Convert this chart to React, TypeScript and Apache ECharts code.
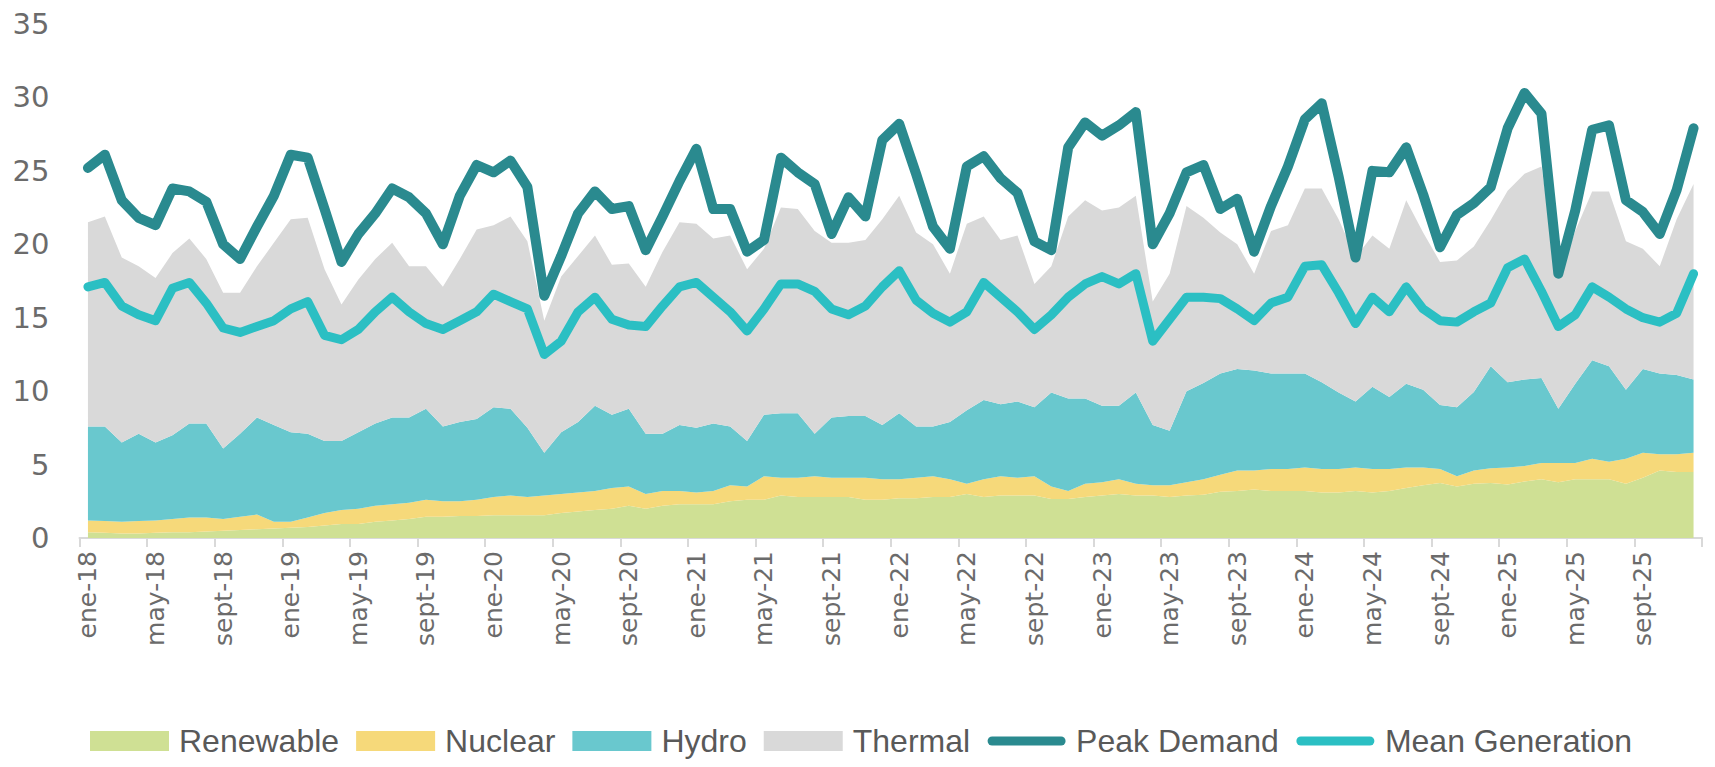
import React, { useEffect, useRef } from "react";
import * as echarts from "echarts";

const monthNames = ["ene", "feb", "mar", "abr", "may", "jun", "jul", "ago", "sept", "oct", "nov", "dic"];
const years = ["18", "19", "20", "21", "22", "23", "24", "25"];
const categories = years.flatMap((y) => monthNames.map((m) => `${m}-${y}`));

const renewable = [
  0.4, 0.35, 0.3, 0.3, 0.35, 0.4, 0.4, 0.45, 0.5, 0.55, 0.6, 0.65,
  0.7, 0.75, 0.85, 0.95, 0.95, 1.1, 1.2, 1.3, 1.45, 1.45, 1.5, 1.5,
  1.55, 1.55, 1.55, 1.55, 1.7, 1.8, 1.9, 2.0, 2.2, 2.0, 2.2, 2.3,
  2.3, 2.3, 2.5, 2.6, 2.6, 2.9, 2.8, 2.8, 2.8, 2.8, 2.6, 2.6,
  2.7, 2.7, 2.8, 2.8, 3.0, 2.8, 2.9, 2.9, 2.9, 2.65, 2.65, 2.8,
  2.9, 3.0, 2.9, 2.9, 2.8, 2.9, 2.95, 3.15, 3.2, 3.3, 3.2, 3.2,
  3.2, 3.1, 3.1, 3.2, 3.1, 3.2, 3.4, 3.6, 3.75, 3.5, 3.7, 3.75,
  3.65, 3.85, 4.0, 3.8, 4.0, 4.0, 4.0, 3.7, 4.1, 4.6, 4.5, 4.5,
];

const nuclear = [
  0.8, 0.8, 0.8, 0.85, 0.85, 0.9, 1.0, 0.95, 0.8, 0.9, 1.0, 0.45,
  0.4, 0.65, 0.85, 0.95, 1.05, 1.1, 1.1, 1.1, 1.15, 1.05, 1.0, 1.1,
  1.25, 1.35, 1.25, 1.35, 1.3, 1.3, 1.3, 1.4, 1.3, 1.0, 1.0, 0.9,
  0.8, 0.9, 1.1, 0.9, 1.6, 1.2, 1.3, 1.4, 1.3, 1.3, 1.5, 1.4,
  1.3, 1.4, 1.4, 1.2, 0.7, 1.2, 1.3, 1.2, 1.3, 0.85, 0.55, 0.9,
  0.9, 1.0, 0.8, 0.7, 0.8, 0.9, 1.05, 1.15, 1.4, 1.3, 1.5, 1.5,
  1.6, 1.6, 1.6, 1.6, 1.6, 1.5, 1.4, 1.2, 0.95, 0.7, 0.9, 1.0,
  1.15, 1.05, 1.1, 1.3, 1.1, 1.4, 1.2, 1.7, 1.7, 1.1, 1.2, 1.3,
];

const hydro = [
  6.4, 6.45, 5.4, 5.95, 5.3, 5.7, 6.4, 6.4, 4.8, 5.65, 6.6, 6.6,
  6.1, 5.7, 4.9, 4.7, 5.2, 5.6, 5.9, 5.8, 6.2, 5.1, 5.4, 5.5,
  6.1, 5.9, 4.7, 2.9, 4.2, 4.8, 5.8, 5.0, 5.3, 4.1, 3.9, 4.5,
  4.4, 4.6, 4.0, 3.1, 4.2, 4.4, 4.4, 2.9, 4.1, 4.2, 4.2, 3.7,
  4.5, 3.5, 3.4, 3.9, 5.0, 5.4, 4.9, 5.2, 4.7, 6.4, 6.3, 5.8,
  5.2, 5.0, 6.2, 4.1, 3.7, 6.2, 6.55, 6.9, 6.9, 6.8, 6.5, 6.5,
  6.4, 5.9, 5.2, 4.5, 5.6, 4.9, 5.7, 5.3, 4.35, 4.7, 5.35, 6.95,
  5.8, 5.9, 5.8, 3.7, 5.4, 6.7, 6.5, 4.7, 5.7, 5.5, 5.4, 5.0,
];

const thermal = [
  13.9, 14.3, 12.6, 11.4, 11.2, 12.4, 12.6, 11.2, 10.6, 9.6, 10.3, 12.4,
  14.5, 14.7, 11.7, 9.3, 10.4, 11.2, 11.9, 10.3, 9.7, 9.5, 11.1, 12.9,
  12.4, 13.1, 12.7, 9.0, 10.6, 11.3, 11.6, 10.2, 9.9, 10.0, 12.4, 13.8,
  13.9, 12.6, 13.0, 11.7, 11.3, 14.0, 13.9, 13.8, 11.9, 11.8, 12.0, 14.0,
  14.8, 13.2, 12.4, 10.1, 12.7, 12.5, 11.2, 11.3, 8.4, 8.6, 12.4, 13.5,
  13.3, 13.5, 13.4, 8.4, 10.7, 12.6, 11.25, 9.6, 8.5, 6.6, 9.7, 10.1,
  12.6, 13.2, 11.8, 9.8, 10.3, 10.1, 12.5, 10.7, 9.75, 10.0, 9.9, 9.95,
  13.05, 14.0, 14.4, 8.8, 10.4, 11.5, 11.9, 10.1, 8.2, 7.3, 10.6, 13.3,
];

const peakDemand = [
  25.2, 26.1, 23.0, 21.8, 21.3, 23.8, 23.6, 22.9, 20.0, 19.0, 21.2, 23.3,
  26.1, 25.9, 22.4, 18.8, 20.7, 22.1, 23.8, 23.2, 22.1, 20.0, 23.3, 25.4,
  24.9, 25.7, 23.9, 16.5, 19.2, 22.1, 23.6, 22.4, 22.6, 19.6, 21.9, 24.3,
  26.5, 22.4, 22.4, 19.5, 20.3, 25.9, 24.9, 24.1, 20.7, 23.2, 21.9, 27.1,
  28.2, 24.8, 21.2, 19.7, 25.3, 26.0, 24.5, 23.5, 20.2, 19.6, 26.6, 28.3,
  27.4, 28.1, 29.0, 20.0, 22.1, 24.9, 25.4, 22.4, 23.1, 19.5, 22.6, 25.3,
  28.5, 29.6, 24.6, 19.1, 25.0, 24.9, 26.6, 23.4, 19.8, 22.0, 22.8, 23.9,
  27.9, 30.3, 28.9, 18.0, 22.3, 27.8, 28.1, 23.0, 22.2, 20.7, 23.7, 27.9,
];

const meanGeneration = [
  17.1, 17.4, 15.8, 15.2, 14.8, 17.0, 17.4, 16.0, 14.3, 14.0, 14.4, 14.8,
  15.6, 16.1, 13.8, 13.5, 14.2, 15.4, 16.4, 15.4, 14.6, 14.2, 14.8, 15.4,
  16.6, 16.1, 15.6, 12.5, 13.4, 15.4, 16.4, 14.9, 14.5, 14.4, 15.8, 17.1,
  17.4, 16.4, 15.4, 14.1, 15.6, 17.3, 17.3, 16.8, 15.6, 15.2, 15.8, 17.1,
  18.2, 16.2, 15.3, 14.7, 15.4, 17.4, 16.4, 15.4, 14.2, 15.2, 16.4, 17.3,
  17.8, 17.3, 18.0, 13.4, 14.9, 16.4, 16.4, 16.3, 15.6, 14.8, 16.0, 16.4,
  18.5, 18.6, 16.7, 14.6, 16.4, 15.4, 17.1, 15.6, 14.8, 14.7, 15.4, 16.0,
  18.4, 19.0, 16.8, 14.4, 15.2, 17.1, 16.4, 15.6, 15.0, 14.7, 15.3, 18.0,
];

const yTicks = { min: 0, max: 35, interval: 5 };

const colors = {
  renewable: "#cfe094",
  nuclear: "#f6d97a",
  hydro: "#69c8ce",
  thermal: "#d9d9d9",
  peak: "#2a8a8f",
  mean: "#2bbfc3",
};

const lineIcon =
  "path://M0,0 M79,20 M5,5.5 L74,5.5 A4.5,4.5 0 0 1 74,14.5 L5,14.5 A4.5,4.5 0 0 1 5,5.5 Z";

export default function App() {
  const ref = useRef<HTMLDivElement>(null);

  useEffect(() => {
    if (!ref.current) return;
    const chart = echarts.init(ref.current, undefined, { renderer: "svg" });

    const areaSeries = (name: string, data: number[], color: string) => ({
      name,
      type: "line",
      stack: "gen",
      data,
      symbol: "none",
      lineStyle: { width: 0, color },
      itemStyle: { color },
      areaStyle: { color, opacity: 1 },
      z: 2,
    });

    const lineSeries = (name: string, data: number[], color: string, width: number) => ({
      name,
      type: "line",
      data,
      symbol: "none",
      lineStyle: { width, color, join: "round", cap: "round" },
      itemStyle: { color },
      z: 5,
    });

    chart.setOption({
      animation: false,
      backgroundColor: "#ffffff",
      grid: { left: 79.5, right: 13, top: 24, bottom: 229, outerBoundsMode: "none" },
      legend: {
        left: 85,
        top: 720,
        itemWidth: 79,
        itemHeight: 20,
        itemGap: 17,
        selectedMode: false,
        textStyle: {
          fontFamily: "Liberation Sans, Arial, sans-serif",
          fontSize: 32,
          color: "#595959",
          padding: [0, 0, 0, 5],
        },
        data: [
          { name: "Renewable", icon: "rect" },
          { name: "Nuclear", icon: "rect" },
          { name: "Hydro", icon: "rect" },
          { name: "Thermal", icon: "rect" },
          { name: "Peak Demand", icon: lineIcon },
          { name: "Mean Generation", icon: lineIcon },
        ],
      },
      xAxis: {
        type: "category",
        data: categories,
        boundaryGap: true,
        axisLine: { show: true, lineStyle: { color: "#d9d9d9", width: 2 } },
        axisTick: { show: true, interval: 3, length: 9, lineStyle: { color: "#d9d9d9", width: 2 } },
        axisLabel: {
          interval: 3,
          rotate: 90,
          margin: 13,
          fontFamily: "DejaVu Sans, sans-serif",
          fontSize: 25,
          color: "#6b6b6b",
        },
        splitLine: { show: false },
      },
      yAxis: {
        type: "value",
        min: yTicks.min,
        max: yTicks.max,
        interval: yTicks.interval,
        axisLine: { show: false },
        axisTick: { show: false },
        splitLine: { show: false },
        axisLabel: {
          margin: 30,
          fontFamily: "DejaVu Sans, sans-serif",
          fontSize: 29,
          color: "#6b6b6b",
        },
      },
      series: [
        areaSeries("Renewable", renewable, colors.renewable),
        areaSeries("Nuclear", nuclear, colors.nuclear),
        areaSeries("Hydro", hydro, colors.hydro),
        areaSeries("Thermal", thermal, colors.thermal),
        lineSeries("Peak Demand", peakDemand, colors.peak, 10),
        lineSeries("Mean Generation", meanGeneration, colors.mean, 9),
      ],
    });

    return () => chart.dispose();
  }, []);

  return (
    <div
      ref={ref}
      style={{ position: "fixed", left: 0, top: 0, width: 1715, height: 767, background: "#fff" }}
    />
  );
}
